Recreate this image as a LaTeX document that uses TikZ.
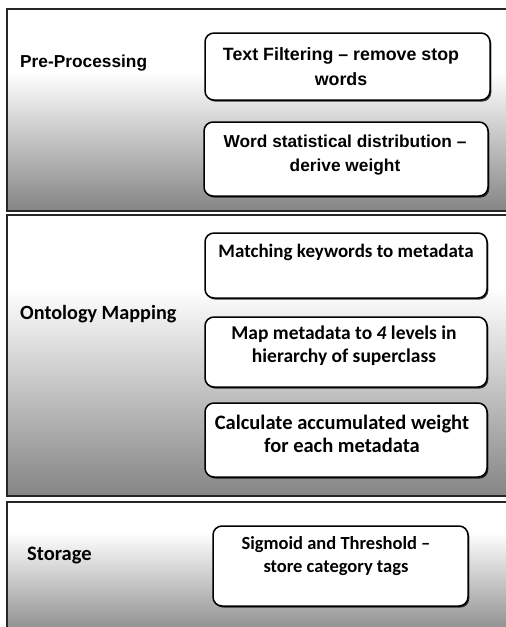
\documentclass[tikz,border=0pt]{standalone}
\usepackage{fontspec}
\setmainfont{Carlito}
\newfontfamily\arialfont{Liberation Sans}
\usetikzlibrary{shadows}
\tikzset{
  panelline/.style={draw=black!85, line width=1.3pt},
  panelshade/.style={top color=white, bottom color=black!48, middle color=black!24},
  stepbox/.style={draw=black, line width=1.5pt, fill=white, rounded corners=9pt,
    inner sep=0pt, drop shadow={shadow xshift=1.3pt, shadow yshift=-1.6pt, opacity=0.75, fill=black}},
  btext/.style={align=center, inner sep=0pt, text=black},
  lbl/.style={anchor=west, inner sep=0pt, text=black},
}
\begin{document}
\begin{tikzpicture}[x=1pt,y=-1pt]
\useasboundingbox (0,0) rectangle (506,627);
\fill[white] (0,0) rectangle (506,627);
% panels
\fill[white] (7,9) rectangle (515,211);
\shade[panelshade] (7,72) rectangle (515,211);
\draw[panelline] (7,9) rectangle (515,211);
\fill[white] (7,215) rectangle (515,496);
\shade[panelshade] (7,288) rectangle (515,496);
\draw[panelline] (7,215) rectangle (515,496);
\fill[white] (7,502) rectangle (515,640);
\shade[panelshade] (7,532) rectangle (515,640);
\draw[panelline] (7,502) rectangle (515,640);
% labels
\node[lbl, font=\arialfont\bfseries\fontsize{17.3}{20}\selectfont] (l1) at (20,63) {Pre-Processing};
\node[lbl, font=\bfseries\fontsize{20.2}{23}\selectfont] (l2) at (20,314) {Ontology Mapping};
\node[lbl, font=\bfseries\fontsize{20.5}{23}\selectfont] (l3) at (27,556) {Storage};
% boxes
\node[stepbox, minimum width=285pt, minimum height=67pt] (b1) at (347.5,66.5) {};
\node[stepbox, minimum width=284pt, minimum height=74pt] (b2) at (346,159) {};
\node[stepbox, minimum width=282pt, minimum height=65pt] (b3) at (346,265.5) {};
\node[stepbox, minimum width=282pt, minimum height=70pt] (b4) at (346,352) {};
\node[stepbox, minimum width=282pt, minimum height=74pt] (b5) at (346,440) {};
\node[stepbox, minimum width=255pt, minimum height=80pt] (b6) at (340.5,566) {};
% texts
\node[btext, font=\arialfont\bfseries\fontsize{17.8}{25}\selectfont] (t1) at (341,67) {Text Filtering – remove stop\\words};
\node[btext, font=\arialfont\bfseries\fontsize{17.3}{24}\selectfont] (t2) at (345,155) {Word statistical distribution –\\derive weight};
\node[btext, font=\bfseries\fontsize{19}{23}\selectfont] (t3) at (346,252) {Matching keywords to metadata};
\node[btext, font=\bfseries\fontsize{19.5}{23}\selectfont] (t4) at (344,346) {Map metadata to \textit{4} levels in\\hierarchy of superclass};
\node[btext, font=\bfseries\fontsize{20.5}{23}\selectfont] (t5) at (342,434) {Calculate accumulated weight\\for each metadata};
\node[btext, font=\bfseries\fontsize{18.5}{23}\selectfont] (t6) at (336,556) {Sigmoid and Threshold –\\store category tags};
\end{tikzpicture}
\end{document}
